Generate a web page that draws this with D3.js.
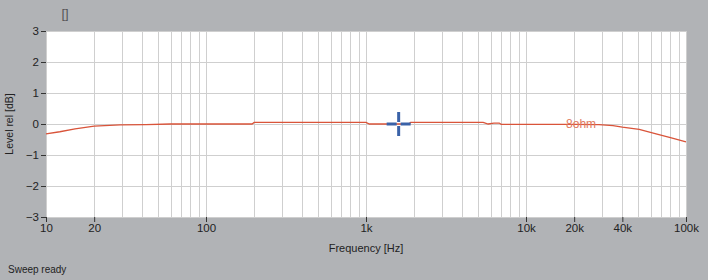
<!DOCTYPE html>
<html>
<head>
<meta charset="utf-8">
<script src="https://cdn.jsdelivr.net/npm/d3@7.9.0/dist/d3.min.js"></script>
<style>
  body { margin: 0; background: #b1b3b6; }
  svg { display: block; font-family: "Liberation Sans", Arial, sans-serif; }
</style>
</head>
<body>
<svg id="chart" width="708" height="280"></svg>
<script>
// response curve (Hz, dB rel)
const freqs = [10, 12.2, 15.2, 20, 29, 42, 60, 100, 194, 200, 500, 1000, 1050, 1600, 1850, 1900, 3000, 5400, 5800, 6300, 6800, 7000, 10000, 20000, 28600, 35000, 40000, 51000, 65000, 81000, 100000];
const levels = [-0.32, -0.25, -0.16, -0.07, -0.03, -0.02, 0, 0, 0, 0.05, 0.05, 0.05, 0, 0, 0, 0.05, 0.05, 0.05, 0, 0.03, 0.03, -0.01, -0.01, -0.01, -0.02, -0.05, -0.1, -0.17, -0.32, -0.45, -0.58];
const xTickVals = [10, 20, 100, 1000, 10000, 20000, 40000, 100000];
const xTickLabels = ['10', '20', '100', '1k', '10k', '20k', '40k', '100k'];
const yTickVals = [3, 2, 1, 0, -1, -2, -3];
const cursor = { f: 1600, level: 0 };
const seriesName = '8ohm';

const svg = d3.select('#chart');
const margin = { left: 46, right: 22, top: 31, bottom: 63 };
const w = 708 - margin.left - margin.right;
const h = 280 - margin.top - margin.bottom;

const x = d3.scaleLog().domain([10, 100000]).range([0, w]);
const y = d3.scaleLinear().domain([-3, 3]).range([h, 0]);

const g = svg.append('g').attr('transform', `translate(${margin.left},${margin.top})`);

g.append('rect').attr('width', w).attr('height', h).attr('fill', '#fff');

// log grid: 1..9 in every decade
const gridFreqs = [];
for (let d = 10; d < 100000; d *= 10) {
  for (let k = 1; k < 10; k++) gridFreqs.push(d * k);
}
gridFreqs.push(100000);

g.selectAll('.vgrid').data(gridFreqs).enter().append('line')
  .attr('x1', (d) => Math.round(x(d)) + 0.5).attr('x2', (d) => Math.round(x(d)) + 0.5)
  .attr('y1', 0).attr('y2', h)
  .attr('stroke', '#cfcfcf').attr('stroke-width', 1);

g.selectAll('.hgrid').data(yTickVals).enter().append('line')
  .attr('x1', 0).attr('x2', w)
  .attr('y1', (d) => Math.round(y(d)) + 0.5).attr('y2', (d) => Math.round(y(d)) + 0.5)
  .attr('stroke', '#cfcfcf').attr('stroke-width', 1.2);

// axes
const yAxis = g.append('g')
  .call(d3.axisLeft(y).tickValues(yTickVals).tickSize(5).tickPadding(2).tickFormat(d3.format('d')));
yAxis.select('.domain').remove();
yAxis.selectAll('line').attr('stroke', '#333');
yAxis.selectAll('text').attr('font-size', 11.5).attr('fill', '#222');

const xAxis = g.append('g').attr('transform', `translate(0,${h})`)
  .call(d3.axisBottom(x).tickValues(xTickVals).tickSize(5).tickPadding(2)
    .tickFormat((d) => xTickLabels[xTickVals.indexOf(d)]));
xAxis.select('.domain').remove();
xAxis.selectAll('line').attr('stroke', '#333');
xAxis.selectAll('text').attr('font-size', 11.5).attr('fill', '#222');

// curve
const line = d3.line().x((d) => x(d[0])).y((d) => y(d[1]));
g.append('path')
  .datum(d3.zip(freqs, levels))
  .attr('d', line)
  .attr('fill', 'none')
  .attr('stroke', '#d9543a')
  .attr('stroke-width', 1.3);

g.append('text')
  .attr('x', x(17800)).attr('y', y(0) + 4)
  .attr('font-size', 12)
  .attr('fill', '#e07a60')
  .text(seriesName);

// cursor cross
const cx = x(cursor.f), cy = y(cursor.level);
const cross = g.append('g').attr('stroke', '#3a62a8').attr('stroke-width', 3);
cross.append('line').attr('x1', cx - 12).attr('x2', cx - 2).attr('y1', cy).attr('y2', cy);
cross.append('line').attr('x1', cx + 2).attr('x2', cx + 12).attr('y1', cy).attr('y2', cy);
cross.append('line').attr('x1', cx).attr('x2', cx).attr('y1', cy - 12).attr('y2', cy - 2);
cross.append('line').attr('x1', cx).attr('x2', cx).attr('y1', cy + 2).attr('y2', cy + 12);

// labels
svg.append('text')
  .attr('transform', `translate(13,${margin.top + y(0)}) rotate(-90)`)
  .attr('text-anchor', 'middle')
  .attr('font-size', 10.5).attr('fill', '#222')
  .text('Level rel [dB]');

svg.append('text')
  .attr('x', margin.left + w / 2).attr('y', 252)
  .attr('text-anchor', 'middle')
  .attr('font-size', 11).attr('fill', '#222')
  .text('Frequency [Hz]');

svg.append('text')
  .attr('x', 65).attr('y', 18)
  .attr('text-anchor', 'middle')
  .attr('font-size', 13).attr('fill', '#555')
  .text('[]');

svg.append('text')
  .attr('x', 8).attr('y', 273)
  .attr('font-size', 10).attr('fill', '#222')
  .text('Sweep ready');
</script>
</body>
</html>
